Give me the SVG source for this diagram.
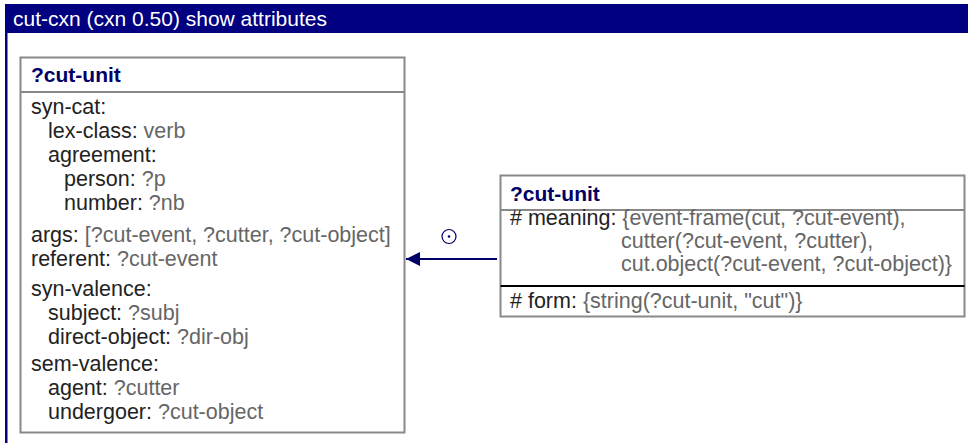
<svg xmlns="http://www.w3.org/2000/svg" width="968" height="443" viewBox="0 0 968 443">
<style>
text { font-family: "Liberation Sans", Arial, sans-serif; font-size: 21.5px; fill: #222; }
.title { fill: #fff; font-size: 21px; }
.hdr { fill: #000066; font-weight: bold; font-size: 21px; }
.v { fill: #666; }
.box { fill: #fff; stroke: #888; stroke-width: 2; }
.sep { stroke: #888; stroke-width: 2; }
</style>
<defs>
<marker id="ah" viewBox="0 0 14 14" refX="14" refY="7" markerWidth="14" markerHeight="14" markerUnits="userSpaceOnUse" orient="auto">
<path d="M0,0 L14,7 L0,14 Z" fill="#000066"/>
</marker>
</defs>
<rect x="0" y="0" width="968" height="443" fill="#fff"/>
<g id="frame">
<rect x="5" y="4" width="963" height="29" fill="#000080"/>
<rect x="5" y="33" width="2.5" height="410" fill="#000080"/>
<text class="title" x="13" y="26">cut-cxn (cxn 0.50) show attributes</text>
</g>
<g id="unit-left">
<rect class="box" x="20.5" y="57.5" width="384" height="375"/>
<line class="sep" x1="20.5" y1="92" x2="404.5" y2="92"/>
<text class="hdr" x="31" y="82">?cut-unit</text>
<text x="31" y="114">syn-cat:</text>
<text x="48" y="138">lex-class: <tspan class="v">verb</tspan></text>
<text x="48" y="162">agreement:</text>
<text x="64" y="186">person: <tspan class="v">?p</tspan></text>
<text x="64" y="210">number: <tspan class="v">?nb</tspan></text>
<text x="31" y="242">args: <tspan class="v">[?cut-event, ?cutter, ?cut-object]</tspan></text>
<text x="31" y="266">referent: <tspan class="v">?cut-event</tspan></text>
<text x="31" y="296">syn-valence:</text>
<text x="48" y="320">subject: <tspan class="v">?subj</tspan></text>
<text x="48" y="344">direct-object: <tspan class="v">?dir-obj</tspan></text>
<text x="31" y="371">sem-valence:</text>
<text x="48" y="395">agent: <tspan class="v">?cutter</tspan></text>
<text x="48" y="419">undergoer: <tspan class="v">?cut-object</tspan></text>
</g>
<g id="unit-right">
<rect class="box" x="500.5" y="175.5" width="464" height="141"/>
<line class="sep" x1="500.5" y1="210" x2="964.5" y2="210"/>
<line x1="500.5" y1="286" x2="964.5" y2="286" stroke="#000" stroke-width="2"/>
<text class="hdr" x="510" y="201">?cut-unit</text>
<text x="510" y="225"># meaning: <tspan class="v">{event-frame(cut, ?cut-event),</tspan></text>
<text class="v" x="621" y="248">cutter(?cut-event, ?cutter),</text>
<text class="v" x="621" y="271">cut.object(?cut-event, ?cut-object)}</text>
<text x="510" y="308"># form: <tspan class="v">{string(?cut-unit, "cut")}</tspan></text>
</g>
<g id="connectors">
<line x1="497" y1="259" x2="406" y2="259" stroke="#000066" stroke-width="2" marker-end="url(#ah)"/>
<circle cx="449" cy="236.5" r="7" fill="none" stroke="#000066" stroke-width="1.2"/>
<circle cx="449" cy="236.5" r="1.3" fill="#000066"/>
</g>
</svg>
